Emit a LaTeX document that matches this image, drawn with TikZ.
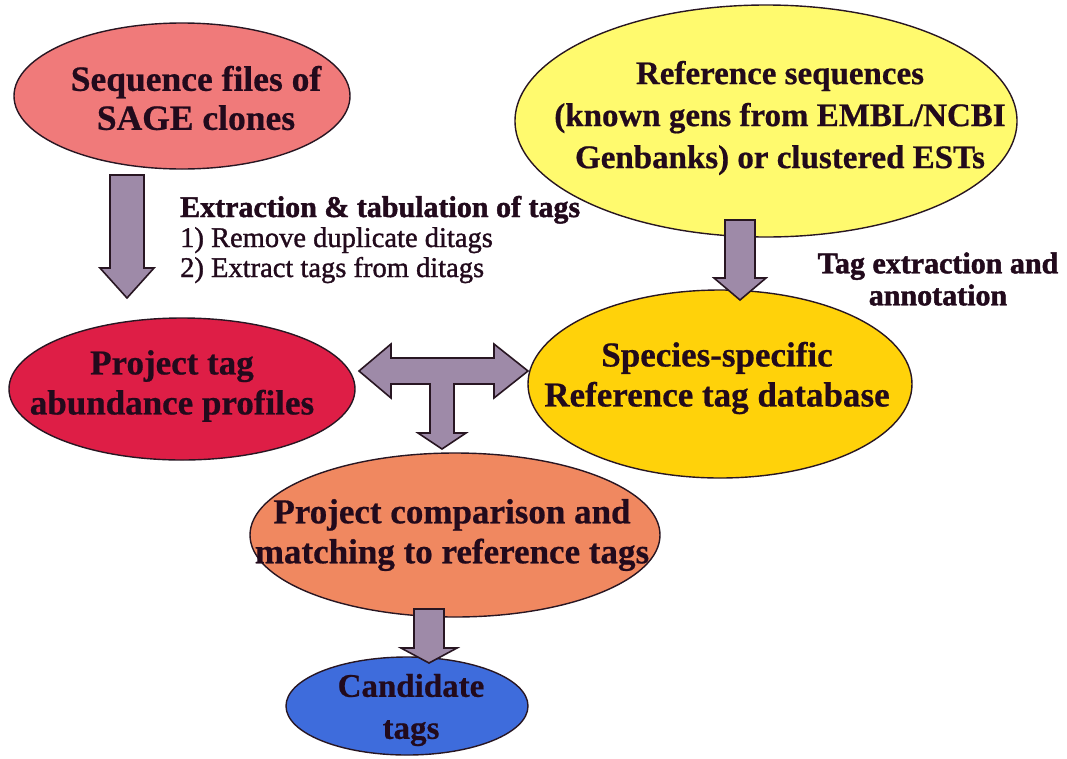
\documentclass[tikz,border=0pt]{standalone}
\usepackage{fontspec}
\setmainfont{Liberation Serif}
\usetikzlibrary{shapes.geometric,calc}
\definecolor{pinkc}{RGB}{240,122,122}
\definecolor{yellowc}{RGB}{255,250,110}
\definecolor{redc}{RGB}{222,30,70}
\definecolor{goldc}{RGB}{255,210,10}
\definecolor{orangec}{RGB}{240,136,96}
\definecolor{bluec}{RGB}{62,108,220}
\definecolor{arrowc}{RGB}{158,138,168}
\definecolor{edgec}{RGB}{40,22,34}
\definecolor{txt}{RGB}{34,10,28}
\newcommand{\blkdown}[5]{%
  \draw[blk] let \p1=(#1), \p2=(#2) in
    (\x1-#4,\y1) -- (\x1+#4,\y1) -- (\x1+#4,\y2+#3) -- (\x1+#5,\y2+#3) -- (\x2,\y2)
    -- (\x1-#5,\y2+#3) -- (\x1-#4,\y2+#3) -- cycle;}
\begin{document}
\begin{tikzpicture}[x=1pt,y=-1pt,
  ell/.style={ellipse, draw=edgec, line width=1.4pt, inner sep=0pt},
  etext/.style={align=center, inner sep=0pt, text=txt,
    font=\fontsize{35}{40}\selectfont\bfseries\addfontfeature{FakeBold=0.6}},
  blk/.style={draw=edgec, line width=1.6pt, fill=arrowc, line join=miter},
  lab/.style={text=txt, inner sep=0pt}]
\useasboundingbox (0,0) rectangle (1067,758);
\fill[white] (0,0) rectangle (1067,758);

\node[ell, fill=pinkc, minimum width=336, minimum height=146] (seq) at (182,96) {};
\node[etext, font=\fontsize{35.5}{39}\selectfont\bfseries\addfontfeature{FakeBold=0.6}] (seqT) at (196,98) {Sequence files of\\SAGE clones};

\node[ell, fill=yellowc, minimum width=502, minimum height=232] (ref) at (766,121) {};
\node[etext, font=\fontsize{33}{42}\selectfont\bfseries\addfontfeature{FakeBold=0.6}] (refT) at (780,118)
  {Reference sequences\\(known gens from EMBL/NCBI\\Genbanks) or clustered ESTs};

\node[ell, fill=redc, minimum width=346, minimum height=142] (proj) at (182,389) {};
\node[etext] (projT) at (172,386) {Project tag\\abundance profiles};

\node[ell, fill=goldc, minimum width=384, minimum height=188] (spec) at (720,384) {};
\node[etext] (specT) at (717,378) {Species-specific\\Reference tag database};

\node[ell, fill=orangec, minimum width=410, minimum height=164] (comp) at (455,535) {};
\node[etext] (compT) at (452,535) {Project comparison and\\matching to reference tags};

\node[ell, fill=bluec, minimum width=242, minimum height=98] (cand) at (407,706) {};
\node[etext, font=\fontsize{33}{42}\selectfont\bfseries\addfontfeature{FakeBold=0.6}] (candT) at (411,710) {Candidate\\tags};

\node[lab, anchor=base west, font=\fontsize{30}{30}\selectfont\bfseries\addfontfeature{FakeBold=1.5}] (ext1) at (180,217)
  {Extraction \& tabulation of tags};
\node[lab, anchor=base west, font=\fontsize{28.5}{30}\selectfont\addfontfeature{FakeBold=1.2}] (ext2) at (180,247)
  {1) Remove duplicate ditags};
\node[lab, anchor=base west, font=\fontsize{28.5}{30}\selectfont\addfontfeature{FakeBold=1.2}] (ext3) at (180,277)
  {2) Extract tags from ditags};
\node[lab, align=center, font=\fontsize{30}{32}\selectfont\bfseries\addfontfeature{FakeBold=1.5}] (tagx) at (938,279)
  {Tag extraction and\\annotation};

\coordinate (a1s) at (127,175);
\coordinate (a1e) at (127,298);
\blkdown{a1s}{a1e}{30pt}{17pt}{27pt}

\coordinate (a2s) at (740,220);
\coordinate (a2e) at (740,300);
\blkdown{a2s}{a2e}{22pt}{15pt}{26pt}

\coordinate (a3s) at (429,609);
\coordinate (a3e) at (429,663);
\blkdown{a3s}{a3e}{15pt}{15pt}{28pt}

\coordinate (tL) at (359,371);
\coordinate (tR) at (528,371);
\coordinate (tD) at (442,449);
\draw[blk] let \p1=(tL), \p2=(tR), \p3=(tD) in
  (\p1) -- (\x1+32pt,\y1+27pt) -- (\x1+32pt,\y1+13pt) -- (\x2-34pt,\y1+13pt)
  -- (\x2-34pt,\y1+27pt) -- (\p2) -- (\x2-34pt,\y1-27pt) -- (\x2-34pt,\y1-13pt)
  -- (\x3+12pt,\y1-13pt) -- (\x3+12pt,\y3+16pt) -- (\x3+24pt,\y3+16pt) -- (\p3)
  -- (\x3-24pt,\y3+16pt) -- (\x3-12pt,\y3+16pt) -- (\x3-12pt,\y1-13pt)
  -- (\x1+32pt,\y1-13pt) -- (\x1+32pt,\y1-27pt) -- cycle;
\end{tikzpicture}
\end{document}
